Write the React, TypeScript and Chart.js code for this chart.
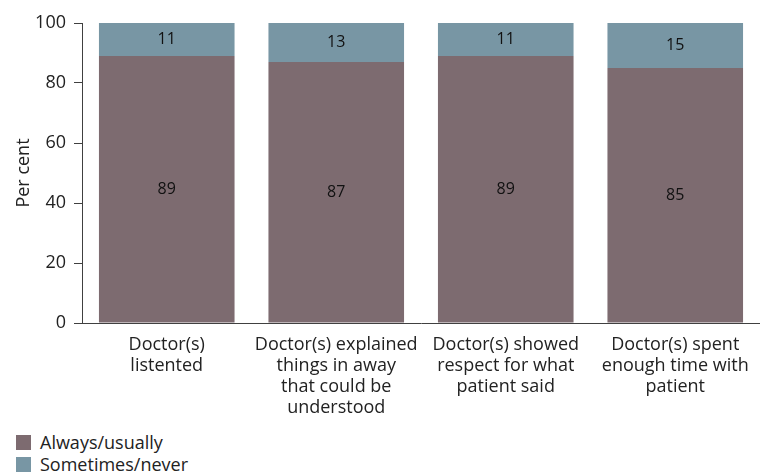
import React, { useEffect, useRef } from "react";
import { Chart, registerables } from "chart.js";

Chart.register(...registerables);

const categories: string[][] = [
  ["Doctor(s)", "listented"],
  ["Doctor(s) explained", "things in away", "that could be", "understood"],
  ["Doctor(s) showed", "respect for what", "patient said"],
  ["Doctor(s) spent", "enough time with", "patient"],
];
const alwaysUsually = [89, 87, 89, 85];
const sometimesNever = [11, 13, 11, 15];
const seriesNames = ["Always/usually", "Sometimes/never"];
const seriesColors = ["#7d6b70", "#7896a4"];
const yTicks = [0, 20, 40, 60, 80, 100];

const FONT = "'Open Sans', 'Noto Sans', sans-serif";

const valueLabels = {
  id: "valueLabels",
  afterDatasetsDraw(chart: any) {
    const ctx = chart.ctx;
    ctx.save();
    ctx.font = `16px ${FONT}`;
    ctx.fillStyle = "#111";
    ctx.textAlign = "center";
    ctx.textBaseline = "middle";
    chart.data.datasets.forEach((ds: any, i: number) => {
      const meta = chart.getDatasetMeta(i);
      meta.data.forEach((bar: any, j: number) => {
        const p = bar.getProps(["x", "y", "base"], true);
        ctx.fillText(String(ds.data[j]), p.x, (p.y + p.base) / 2);
      });
    });
    ctx.restore();
  },
};

export default function App() {
  const ref = useRef<HTMLCanvasElement | null>(null);
  useEffect(() => {
    document.body.style.margin = "0";
    const chart = new Chart(ref.current as HTMLCanvasElement, {
      type: "bar",
      data: {
        labels: categories,
        datasets: [
          { label: seriesNames[0], data: alwaysUsually, backgroundColor: seriesColors[0], categoryPercentage: 1, barPercentage: 0.8 },
          { label: seriesNames[1], data: sometimesNever, backgroundColor: seriesColors[1], categoryPercentage: 1, barPercentage: 0.8 },
        ],
      },
      options: {
        animation: false,
        responsive: false,
        layout: { padding: { top: 23, right: 0, bottom: 0, left: 0 } },
        plugins: { legend: { display: false }, tooltip: { enabled: false } },
        scales: {
          x: {
            stacked: true,
            grid: { display: false },
            border: { color: "#404040", width: 1 },
            ticks: {
              color: "#222",
              font: { family: FONT, size: 18, lineHeight: "21px" },
              maxRotation: 0,
              autoSkip: false,
              padding: 3,
            },
          },
          y: {
            stacked: true,
            min: 0,
            max: 100,
            afterFit: (s: any) => {
              s.width = 82;
            },
            afterBuildTicks: (s: any) => {
              s.ticks = yTicks.map((v) => ({ value: v }));
            },
            grid: { display: true, drawOnChartArea: false, drawTicks: true, tickLength: 8, color: "#404040" },
            border: { color: "#404040", width: 1 },
            ticks: { color: "#222", font: { family: FONT, size: 18 }, padding: 8 },
            title: { display: true, text: "Per cent", color: "#222", font: { family: FONT, size: 18 }, padding: { top: 13, bottom: 0 } },
          },
        },
      },
      plugins: [valueLabels],
    });
    return () => chart.destroy();
  }, []);

  return (
    <div style={{ position: "relative", width: 760, height: 475, fontFamily: FONT }}>
      <canvas ref={ref} width={760} height={421} style={{ display: "block" }} />
      <div style={{ position: "absolute", left: 16, top: 431, fontSize: 18, color: "#222", lineHeight: "22px" }}>
        {seriesNames.map((n, i) => (
          <div key={n} style={{ display: "flex", alignItems: "center" }}>
            <span style={{ display: "inline-block", width: 15, height: 15, background: seriesColors[i], marginRight: 9 }} />
            {n}
          </div>
        ))}
      </div>
    </div>
  );
}
